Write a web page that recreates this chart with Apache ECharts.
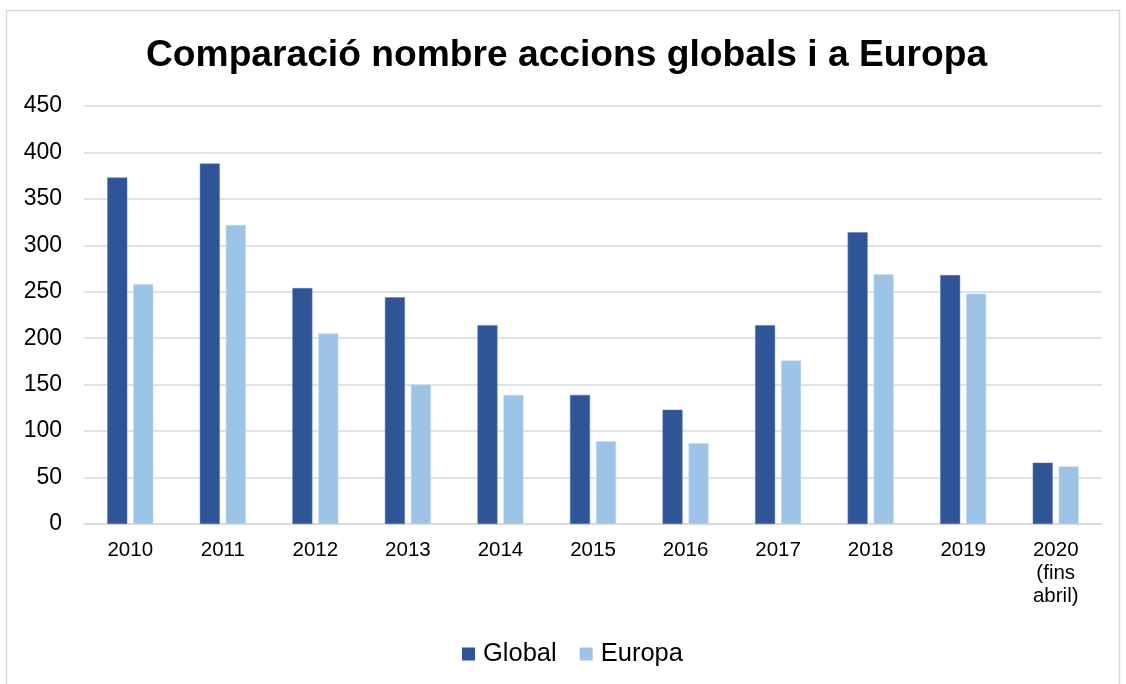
<!DOCTYPE html>
<html>
<head>
<meta charset="utf-8">
<script src="https://cdn.jsdelivr.net/npm/echarts@6/dist/echarts.min.js"></script>
<style>
  html, body { margin: 0; padding: 0; background: #fff; }
  #chart { width: 1126px; height: 684px; }
</style>
</head>
<body>
<div id="chart"></div>
<script>
// Number of actions per year, worldwide and in Europe
const years = ['2010', '2011', '2012', '2013', '2014', '2015', '2016', '2017', '2018', '2019', '2020\n(fins\nabril)'];
const globalActions = [373, 388, 254, 244, 214, 139, 123, 214, 314, 268, 66];
const europeActions = [258, 322, 205, 150, 139, 89, 87, 176, 269, 248, 62];
const yTicks = { min: 0, max: 450, step: 50 };

const font = '"Liberation Sans", Arial, sans-serif';
const chart = echarts.init(document.getElementById('chart'));

chart.setOption({
  backgroundColor: '#ffffff',
  animation: false,
  graphic: [{
    type: 'rect',
    silent: true,
    shape: { x: 6.5, y: 10.5, width: 1113, height: 690 },
    style: { fill: 'none', stroke: '#d9d9d9', lineWidth: 1.5 }
  }],
  title: {
    text: 'Comparació nombre accions globals i a Europa',
    left: 146,
    top: 37,
    padding: 0,
    textStyle: { fontFamily: font, fontSize: 37.2, fontWeight: 'bold', color: '#000' }
  },
  legend: {
    data: ['Global', 'Europa'],
    left: 462,
    top: 641,
    padding: 0,
    icon: 'rect',
    itemWidth: 13,
    itemHeight: 13,
    itemGap: 23,
    itemStyle: { borderWidth: 0 },
    textStyle: { fontFamily: font, fontSize: 25.5, color: '#000', padding: [0, 0, 0, 3] }
  },
  grid: { left: 84, right: 24, top: 106, bottom: 160 },
  xAxis: {
    type: 'category',
    data: years,
    axisTick: { show: false },
    axisLine: { lineStyle: { color: '#d9d9d9', width: 1.5 } },
    axisLabel: {
      interval: 0,
      margin: 15,
      fontFamily: font,
      fontSize: 20.5,
      lineHeight: 23,
      color: '#000'
    }
  },
  yAxis: {
    type: 'value',
    min: yTicks.min,
    max: yTicks.max,
    interval: yTicks.step,
    axisLine: { show: false },
    axisTick: { show: false },
    splitLine: { lineStyle: { color: '#d9d9d9', width: 1.5 } },
    axisLabel: { margin: 22, fontFamily: font, fontSize: 23, color: '#000' }
  },
  series: [
    {
      name: 'Global',
      type: 'bar',
      data: globalActions,
      barWidth: 20,
      barGap: '30%',
      itemStyle: { color: '#2f5597', borderColor: '#5a7ab5', borderWidth: 0.5 }
    },
    {
      name: 'Europa',
      type: 'bar',
      data: europeActions,
      barWidth: 20,
      itemStyle: { color: '#9dc3e6', borderColor: '#c3daf0', borderWidth: 0.5 }
    }
  ]
});
</script>
</body>
</html>
